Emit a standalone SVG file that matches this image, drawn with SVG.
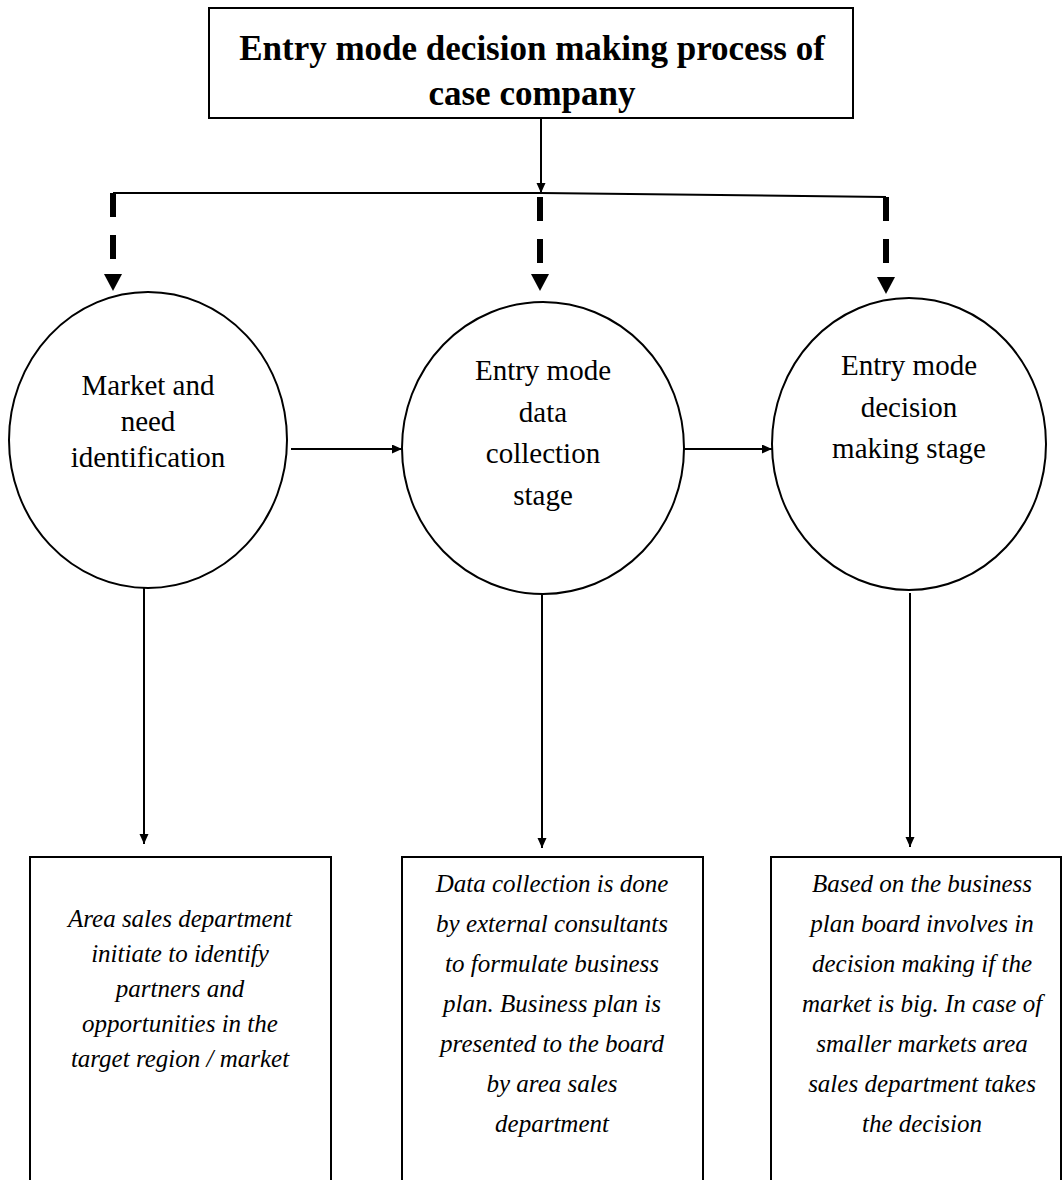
<svg xmlns="http://www.w3.org/2000/svg" width="1063" height="1180" viewBox="0 0 1063 1180">
<style>
.box{fill:#fff;stroke:#000;stroke-width:2}
.node{fill:#fff;stroke:#000;stroke-width:2}
.title{font-family:"Liberation Serif","Times New Roman",serif;font-weight:bold;font-size:35px;text-anchor:middle;fill:#000}
.stage{font-family:"Liberation Serif","Times New Roman",serif;font-size:29px;text-anchor:middle;fill:#000}
.desc{font-family:"Liberation Serif","Times New Roman",serif;font-style:italic;font-size:25px;text-anchor:middle;fill:#000}
.thin{fill:none;stroke:#000;stroke-width:2}
.dash{fill:none;stroke:#000;stroke-width:6;stroke-dasharray:24 18}
</style>
<defs>
<marker id="arr" markerUnits="userSpaceOnUse" markerWidth="12" markerHeight="10" refX="10" refY="4.5" orient="auto">
<path d="M0,0 L10,4.5 L0,9 z" fill="#000"/>
</marker>
<marker id="big" markerUnits="userSpaceOnUse" markerWidth="20" markerHeight="20" refX="-1" refY="9" orient="auto">
<path d="M0,0 L17,9 L0,18 z" fill="#000"/>
</marker>
</defs>
<g id="connectors">
<line class="thin" x1="541" y1="118" x2="541" y2="193" marker-end="url(#arr)"/>
<polyline class="thin" points="113,193 541,193 886,197"/>
<line class="dash" x1="113" y1="193" x2="113" y2="273" marker-end="url(#big)"/>
<line class="dash" x1="540" y1="197" x2="540" y2="273" marker-end="url(#big)"/>
<line class="dash" x1="886" y1="197" x2="886" y2="276" marker-end="url(#big)"/>
<line class="thin" x1="291" y1="449" x2="402" y2="449" marker-end="url(#arr)"/>
<line class="thin" x1="684" y1="449" x2="772" y2="449" marker-end="url(#arr)"/>
<line class="thin" x1="144" y1="587" x2="144" y2="844" marker-end="url(#arr)"/>
<line class="thin" x1="542" y1="593" x2="542" y2="848" marker-end="url(#arr)"/>
<line class="thin" x1="910" y1="593" x2="910" y2="847" marker-end="url(#arr)"/>
</g>
<g id="title">
<rect class="box" x="209" y="8" width="644" height="110"/>
<text class="title" x="532" y="60">Entry mode decision making process of</text>
<text class="title" x="532" y="105">case company</text>
</g>
<g id="stage1">
<ellipse class="node" cx="148" cy="440" rx="139" ry="148"/>
<text class="stage" x="148" y="395">Market and</text>
<text class="stage" x="148" y="431">need</text>
<text class="stage" x="148" y="467">identification</text>
</g>
<g id="stage2">
<ellipse class="node" cx="543" cy="448" rx="141" ry="146"/>
<text class="stage" x="543" y="380">Entry mode</text>
<text class="stage" x="543" y="422">data</text>
<text class="stage" x="543" y="463">collection</text>
<text class="stage" x="543" y="505">stage</text>
</g>
<g id="stage3">
<ellipse class="node" cx="909" cy="444" rx="137" ry="146"/>
<text class="stage" x="909" y="375">Entry mode</text>
<text class="stage" x="909" y="417">decision</text>
<text class="stage" x="909" y="458">making stage</text>
</g>
<g id="desc1">
<rect class="box" x="30" y="857" width="301" height="340"/>
<text class="desc" x="180" y="927">Area sales department</text>
<text class="desc" x="180" y="962">initiate to identify</text>
<text class="desc" x="180" y="997">partners and</text>
<text class="desc" x="180" y="1032">opportunities in the</text>
<text class="desc" x="180" y="1067">target region / market</text>
</g>
<g id="desc2">
<rect class="box" x="402" y="857" width="301" height="340"/>
<text class="desc" x="552" y="892">Data collection is done</text>
<text class="desc" x="552" y="932">by external consultants</text>
<text class="desc" x="552" y="972">to formulate business</text>
<text class="desc" x="552" y="1012">plan. Business plan is</text>
<text class="desc" x="552" y="1052">presented to the board</text>
<text class="desc" x="552" y="1092">by area sales</text>
<text class="desc" x="552" y="1132">department</text>
</g>
<g id="desc3">
<rect class="box" x="771" y="857" width="290" height="340"/>
<text class="desc" x="922" y="892">Based on the business</text>
<text class="desc" x="922" y="932">plan board involves in</text>
<text class="desc" x="922" y="972">decision making if the</text>
<text class="desc" x="922" y="1012">market is big. In case of</text>
<text class="desc" x="922" y="1052">smaller markets area</text>
<text class="desc" x="922" y="1092">sales department takes</text>
<text class="desc" x="922" y="1132">the decision</text>
</g>
</svg>
